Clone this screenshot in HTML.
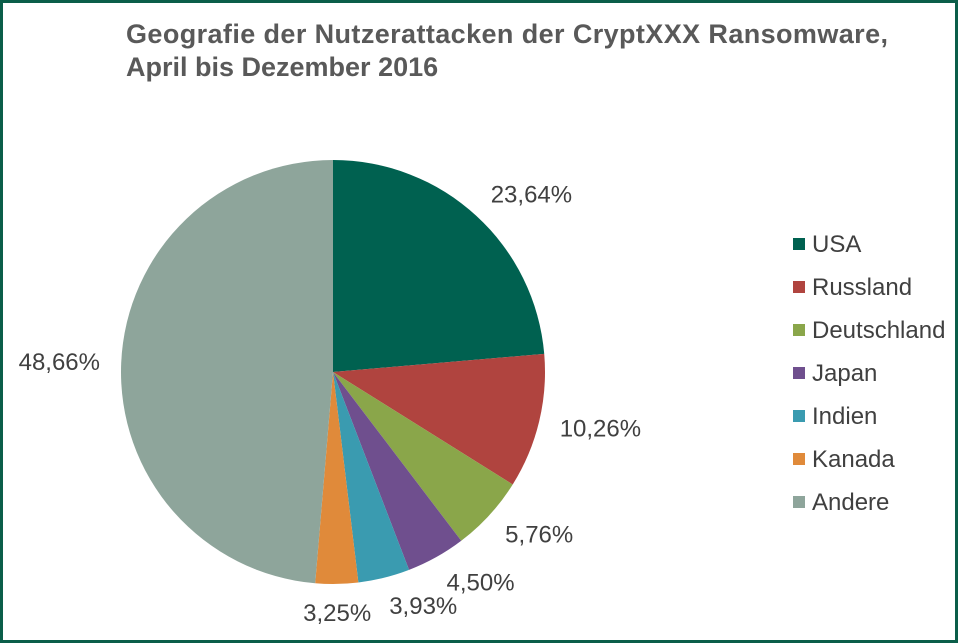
<!DOCTYPE html>
<html><head><meta charset="utf-8"><style>
body{margin:0;width:958px;height:643px;overflow:hidden;background:#fff;font-family:"Liberation Sans",sans-serif}
#frame{position:absolute;left:0;top:0;width:952px;height:637px;border:3px solid #0b5e49;background:#fff}
</style></head><body>
<div id="frame"></div>
<svg id="chart" width="958" height="643" style="position:absolute;left:0;top:0">
<text x="126" y="43" font-size="27" font-weight="bold" fill="#595959" textLength="762">Geografie der Nutzerattacken der CryptXXX Ransomware,</text>
<text x="126" y="76" font-size="27" font-weight="bold" fill="#595959">April bis Dezember 2016</text>
</svg>
<script>
const categories=["USA","Russland","Deutschland","Japan","Indien","Kanada","Andere"];
const values=[23.64,10.26,5.76,4.50,3.93,3.25,48.66];
const colors=["#006150","#b0443f","#8aa64a","#6f4f8e","#3a9bb0","#e08a3a","#8ea59b"];
const NS="http://www.w3.org/2000/svg";
const svg=document.getElementById('chart');
const cx=333,cy=372,r=212;
const total=values.reduce((a,b)=>a+b,0);
function pt(frac,rad){const a=frac*2*Math.PI;return [cx+rad*Math.sin(a),cy-rad*Math.cos(a)];}
let cum=0;
values.forEach((v,i)=>{
  const s=cum/total,e=(cum+v)/total;cum+=v;
  const [x1,y1]=pt(s,r),[x2,y2]=pt(e,r);
  const p=document.createElementNS(NS,'path');
  p.setAttribute('d',`M${cx},${cy}L${x1},${y1}A${r},${r} 0 ${e-s>0.5?1:0} 1 ${x2},${y2}Z`);
  p.setAttribute('fill',colors[i]);
  
  
  svg.appendChild(p);
  const m=(s+e)/2,a=m*2*Math.PI,sn=Math.sin(a),cs=Math.cos(a);
  const [lx,ly]=pt(m,r*1.1);
  const t=document.createElementNS(NS,'text');
  t.setAttribute('x',lx);t.setAttribute('y',ly+8+8*Math.max(0,-cs)-8*Math.max(0,cs));
  t.setAttribute('font-size','24');t.setAttribute('fill','#404040');
  t.setAttribute('text-anchor',sn>0.2?'start':(sn<-0.2?'end':'middle'));
  t.textContent=v.toFixed(2).replace('.',',')+'%';
  
  
  svg.appendChild(t);
  const ry=244+i*43;
  const sq=document.createElementNS(NS,'rect');
  sq.setAttribute('x',793);sq.setAttribute('y',ry-6);sq.setAttribute('width',12);sq.setAttribute('height',12);
  sq.setAttribute('fill',colors[i]);
  
  
  svg.appendChild(sq);
  const lt=document.createElementNS(NS,'text');
  lt.setAttribute('x',812);lt.setAttribute('y',ry+8);lt.setAttribute('font-size','24');lt.setAttribute('fill','#404040');
  lt.textContent=categories[i];
  
  
  svg.appendChild(lt);
});
</script>
</body></html>
